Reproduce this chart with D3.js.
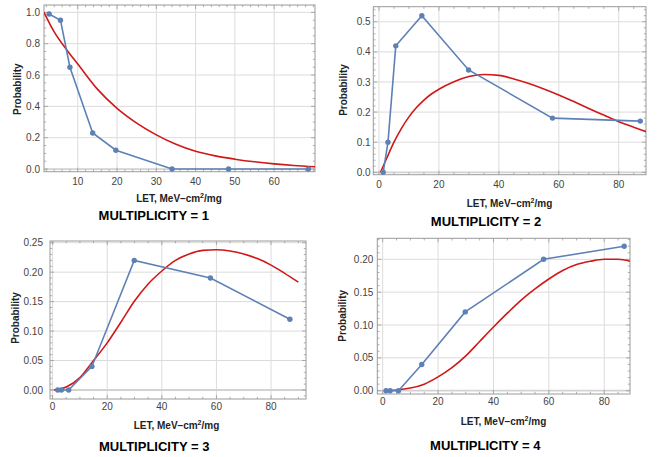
<!DOCTYPE html>
<html>
<head>
<meta charset="utf-8">
<script src="https://cdn.jsdelivr.net/npm/d3@7"></script>
<style>
  html, body { margin: 0; padding: 0; background: #ffffff; }
  svg { display: block; }
</style>
</head>
<body>
<svg id="chart" width="658" height="457"></svg>
<script>
// ---------------- DATA ----------------
// Multiplicity 1
const m1LET  = [2.7, 5.6, 8.0, 13.8, 19.7, 34.0, 48.4, 68.7];
const m1Prob = [0.99, 0.95, 0.65, 0.23, 0.12, 0, 0, 0];
const m1FitLET  = [1.4, 4, 7.2, 10, 15, 20, 25, 30, 35, 40, 45, 50, 55, 60, 65, 70.4];
const m1FitProb = [1.0, 0.875, 0.76, 0.67, 0.51, 0.387, 0.293, 0.218, 0.158, 0.113, 0.084, 0.063, 0.046, 0.033, 0.023, 0.015];
const m1XTicks = [10, 20, 30, 40, 50, 60];
const m1YTicks = [0, 0.2, 0.4, 0.6, 0.8, 1.0];

// Multiplicity 2
const m2LET  = [1.4, 3.0, 5.6, 14.3, 29.9, 57.9, 87.2];
const m2Prob = [0, 0.10, 0.42, 0.52, 0.34, 0.18, 0.17];
const m2FitLET  = [0.5, 2.5, 5, 7.5, 10, 12.5, 15, 17.5, 20, 25, 30, 35, 40, 45, 50, 55, 60, 65, 70, 75, 80, 85, 89.1];
const m2FitProb = [0, 0.045, 0.1, 0.146, 0.184, 0.215, 0.24, 0.26, 0.276, 0.301, 0.318, 0.325, 0.322, 0.31, 0.295, 0.277, 0.257, 0.235, 0.212, 0.19, 0.168, 0.15, 0.135];
const m2XTicks = [0, 20, 40, 60, 80];
const m2YTicks = [0, 0.1, 0.2, 0.3, 0.4, 0.5];

// Multiplicity 3
const m3LET  = [1.9, 3.2, 5.9, 14.4, 29.9, 57.8, 86.9];
const m3Prob = [0, 0, 0, 0.04, 0.22, 0.19, 0.12];
const m3FitLET  = [0.5, 5, 10, 15, 20, 25, 30, 35, 40, 45, 50, 55, 60, 65, 70, 75, 80, 85, 90];
const m3FitProb = [0, 0.005, 0.021, 0.05, 0.08, 0.115, 0.151, 0.18, 0.202, 0.22, 0.231, 0.237, 0.238, 0.236, 0.231, 0.223, 0.212, 0.198, 0.183];
const m3XTicks = [0, 20, 40, 60, 80];
const m3YTicks = [0, 0.05, 0.10, 0.15, 0.20, 0.25];

// Multiplicity 4
const m4LET  = [1.2, 2.7, 5.7, 14.1, 29.8, 58.1, 87.2];
const m4Prob = [0, 0, 0, 0.04, 0.12, 0.20, 0.22];
const m4FitLET  = [0.5, 5, 10, 15, 20, 25, 30, 35, 40, 45, 50, 55, 60, 65, 70, 75, 80, 85, 89.3];
const m4FitProb = [0, 0.001, 0.004, 0.01, 0.021, 0.035, 0.053, 0.075, 0.097, 0.118, 0.138, 0.155, 0.17, 0.183, 0.192, 0.197, 0.2, 0.2, 0.197];
const m4XTicks = [0, 20, 40, 60, 80];
const m4YTicks = [0, 0.05, 0.10, 0.15, 0.20];

const titles = ["MULTIPLICITY = 1", "MULTIPLICITY = 2", "MULTIPLICITY = 3", "MULTIPLICITY = 4"];

// ---------------- LAYOUT ----------------
const panels = [
  { LET: m1LET, P: m1Prob, fx: m1FitLET, fy: m1FitProb, xt: m1XTicks, yt: m1YTicks, yfmt: ".1f",
    xd: [1.4, 70.4], yd: [-0.017, 1.047], minX: 2, minY: 0.05,
    box: [44, 5, 315, 171.7], ylabR: 40, xlabY: 185.4, ylab: [17.3, 89.2], axlab: [179, 202], title: [153.8, 219.5] },
  { LET: m2LET, P: m2Prob, fx: m2FitLET, fy: m2FitProb, xt: m2XTicks, yt: m2YTicks, yfmt: ".1f",
    xd: [-1.9, 89.1], yd: [-0.008, 0.55], minX: 5, minY: 0.02,
    box: [373.3, 6.7, 646, 174.7], ylabR: 370.7, xlabY: 188, ylab: [343.3, 90], axlab: [509.5, 207], title: [486, 226.3] },
  { LET: m3LET, P: m3Prob, fx: m3FitLET, fy: m3FitProb, xt: m3XTicks, yt: m3YTicks, yfmt: ".2f",
    xd: [-0.95, 92.8], yd: [-0.0153, 0.2529], minX: 5, minY: 0.01,
    box: [50, 241, 306, 399], ylabR: 43, xlabY: 410.3, ylab: [15, 318], axlab: [176.5, 429.4], title: [154.2, 451.2] },
  { LET: m4LET, P: m4Prob, fx: m4FitLET, fy: m4FitProb, xt: m4XTicks, yt: m4YTicks, yfmt: ".2f",
    xd: [-1.95, 89.3], yd: [-0.005, 0.232], minX: 5, minY: 0.01,
    box: [377.3, 238.3, 630, 394], ylabR: 373.3, xlabY: 405.3, ylab: [342.7, 315.8], axlab: [503.5, 424.6], title: [485.3, 449.5] }
];

const svg = d3.select("#chart");
const BLUE = "#5e81b5", RED = "#d01818", FRAME = "#9a9a9a", GRID = "#dcdcdc";
const FONT = "'Liberation Sans', Arial, sans-serif";

panels.forEach((p, i) => {
  const [x0, y0, x1, y1] = p.box;
  const x = d3.scaleLinear().domain(p.xd).range([x0, x1]);
  const y = d3.scaleLinear().domain(p.yd).range([y1, y0]);
  const g = svg.append("g");

  const clipId = "clip" + i;
  svg.append("clipPath").attr("id", clipId)
    .append("rect").attr("x", x0).attr("y", y0).attr("width", x1 - x0).attr("height", y1 - y0);

  // grid lines
  g.append("g").selectAll("line").data(p.xt.filter(v => v > p.xd[0] && v < p.xd[1])).join("line")
    .attr("x1", d => x(d)).attr("x2", d => x(d)).attr("y1", y0).attr("y2", y1)
    .attr("stroke", GRID).attr("stroke-width", 1);
  g.append("g").selectAll("line").data(p.yt.filter(v => v !== 0)).join("line")
    .attr("x1", x0).attr("x2", x1).attr("y1", d => y(d)).attr("y2", d => y(d))
    .attr("stroke", GRID).attr("stroke-width", 1);
  // zero axis line
  g.append("line").attr("x1", x0).attr("x2", x1).attr("y1", y(0)).attr("y2", y(0))
    .attr("stroke", "#d2d2d2").attr("stroke-width", 1.8);

  // frame ticks (major + minor) on all sides, inward
  const minorX = d3.range(Math.ceil(p.xd[0] / p.minX) * p.minX, p.xd[1], p.minX)
    .filter(v => !p.xt.some(t => Math.abs(t - v) < 1e-9));
  const minorY = d3.range(Math.ceil(p.yd[0] / p.minY - 1e-9) * p.minY, p.yd[1], p.minY)
    .filter(v => !p.yt.some(t => Math.abs(t - v) < 1e-6) && v >= p.yd[0] && v <= p.yd[1]);
  const tk = g.append("g").attr("stroke", FRAME).attr("stroke-width", 0.8);
  const xTickSet = p.xt.map(v => ({ v, len: 4 })).concat(minorX.map(v => ({ v, len: 2.2 })));
  const yTickSet = p.yt.map(v => ({ v, len: 4 })).concat(minorY.map(v => ({ v, len: 2.2 })));
  tk.selectAll(".xb").data(xTickSet).join("line")
    .attr("x1", d => x(d.v)).attr("x2", d => x(d.v)).attr("y1", y1).attr("y2", d => y1 - d.len);
  tk.selectAll(".xt").data(xTickSet).join("line")
    .attr("x1", d => x(d.v)).attr("x2", d => x(d.v)).attr("y1", y0).attr("y2", d => y0 + d.len);
  tk.selectAll(".yl").data(yTickSet).join("line")
    .attr("y1", d => y(d.v)).attr("y2", d => y(d.v)).attr("x1", x0).attr("x2", d => x0 + d.len);
  tk.selectAll(".yr").data(yTickSet).join("line")
    .attr("y1", d => y(d.v)).attr("y2", d => y(d.v)).attr("x1", x1).attr("x2", d => x1 - d.len);

  // frame
  g.append("rect").attr("x", x0).attr("y", y0).attr("width", x1 - x0).attr("height", y1 - y0)
    .attr("fill", "none").attr("stroke", FRAME).attr("stroke-width", 1);

  // tick labels
  g.append("g").selectAll("text").data(p.xt).join("text")
    .attr("x", d => x(d)).attr("y", p.xlabY).attr("text-anchor", "middle")
    .attr("font-family", FONT).attr("font-size", 10).attr("fill", "#444")
    .text(d => d3.format("d")(d));
  g.append("g").selectAll("text").data(p.yt).join("text")
    .attr("x", p.ylabR).attr("y", d => y(d) + 3.6).attr("text-anchor", "end")
    .attr("font-family", FONT).attr("font-size", 10).attr("fill", "#444")
    .text(d => d3.format(p.yfmt)(d));

  // fit curve (red)
  const line = d3.line().x(d => x(d[0])).y(d => y(d[1])).curve(d3.curveMonotoneX);
  g.append("path").datum(p.fx.map((v, k) => [v, p.fy[k]]))
    .attr("clip-path", `url(#${clipId})`)
    .attr("d", line).attr("fill", "none").attr("stroke", RED).attr("stroke-width", 1.6);

  // data (blue)
  const pts = p.LET.map((v, k) => [v, p.P[k]]);
  g.append("path").datum(pts)
    .attr("d", d3.line().x(d => x(d[0])).y(d => y(d[1])))
    .attr("fill", "none").attr("stroke", BLUE).attr("stroke-width", 1.6);
  g.append("g").selectAll("circle").data(pts).join("circle")
    .attr("cx", d => x(d[0])).attr("cy", d => y(d[1])).attr("r", 2.7).attr("fill", BLUE);

  // axis labels
  g.append("text").attr("transform", `translate(${p.ylab[0]},${p.ylab[1]}) rotate(-90)`)
    .attr("text-anchor", "middle").attr("dy", "0.36em")
    .attr("font-family", FONT).attr("font-size", 10).attr("font-weight", "bold").attr("fill", "#222")
    .text("Probability");
  const xl = g.append("text").attr("x", p.axlab[0]).attr("y", p.axlab[1]).attr("text-anchor", "middle")
    .attr("font-family", FONT).attr("font-size", 10).attr("font-weight", "bold").attr("fill", "#222");
  xl.append("tspan").text("LET, MeV\u2013cm");
  xl.append("tspan").attr("font-size", 7).attr("dy", -4).text("2");
  xl.append("tspan").attr("dy", 4).text("/mg");

  // title
  g.append("text").attr("x", p.title[0]).attr("y", p.title[1]).attr("text-anchor", "middle")
    .attr("font-family", FONT).attr("font-size", 13).attr("font-weight", "bold").attr("fill", "#000")
    .text(titles[i]);
});
</script>
</body>
</html>
